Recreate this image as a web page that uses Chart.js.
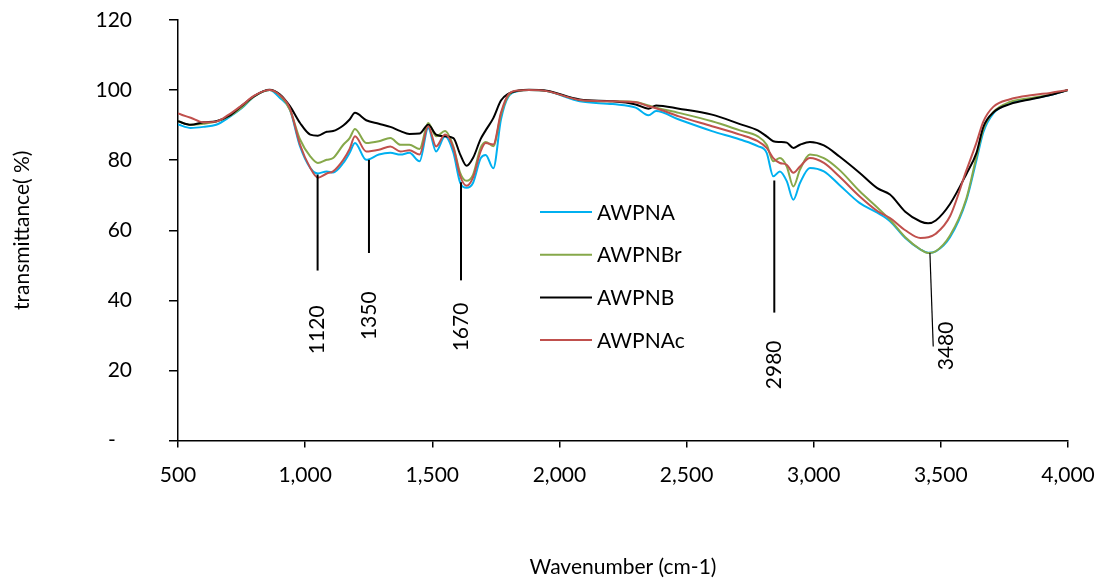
<!DOCTYPE html>
<html lang="en">
<head>
    <meta charset="UTF-8">
    <title>FTIR Transmittance</title>
    <style>
        body {
            margin: 0;
            background-color: #fff;
        }
        #chartBox {
            width: 1099px;
            height: 585px;
        }
    </style>
</head>
<body>
    <div id="chartBox">
        <canvas id="ftirChart" width="1099" height="585"></canvas>
    </div>
    <script src="https://cdn.jsdelivr.net/npm/chart.js"></script>
    <script>
        // wavenumber grid shared by all four spectra
        const waveNumbers = [
            500, 550, 600, 650, 700, 750, 800, 860, 900, 940,
            980, 1020, 1050, 1085, 1110, 1150, 1175, 1196, 1240, 1290,
            1335, 1375, 1410, 1450, 1484, 1515, 1550, 1583, 1610, 1635,
            1660, 1690, 1710, 1740, 1770, 1800, 1840, 1880, 1950, 2080,
            2210, 2300, 2350, 2380, 2470, 2600, 2710, 2780, 2815, 2841,
            2867, 2894, 2920, 2946, 2985, 3040, 3100, 3180, 3250, 3300,
            3360, 3420, 3450, 3480, 3536, 3600, 3640, 3667, 3706, 3772,
            3862, 3930, 4000
        ];

        const awpna = [
            90.2, 89.2, 89.5, 90.1, 92.2, 94.8, 98.2, 100, 97.8, 94.4,
            83.9, 77.8, 76.2, 76.8, 76.5, 79.2, 82.1, 84.9, 80.1, 81.6,
            82.1, 81.6, 82.1, 79.7, 89.2, 82.5, 86.8, 82.1, 73.5, 72.1,
            73.5, 80.5, 81.5, 77.7, 91.6, 98.2, 99.7, 100, 99.7, 96.8,
            96, 95, 92.8, 94, 91.6, 88.3, 85.9, 84, 82.1, 75.4,
            76.8, 74, 68.7, 73.5, 77.8, 76.8, 73, 67.8, 65, 62.6,
            57.8, 54.5, 53.6, 54, 58, 68.5, 80, 88, 93.3, 96.2,
            97.6, 98.6, 100
        ];

        const awpnbr = [
            91.1, 90.1, 90.4, 91, 92.5, 95, 98.2, 100, 98.5, 94.4,
            85.9, 81.1, 79.2, 80.1, 80.6, 84.4, 86.3, 88.9, 84.9, 85.4,
            86.3, 84.4, 84.4, 83.2, 90.6, 86.8, 88.3, 83.9, 76.3, 74.1,
            75.8, 83.5, 85.2, 84, 93, 98.5, 99.8, 100, 99.7, 97.2,
            96.8, 96.6, 95.6, 95, 93.5, 91.1, 88.5, 86.8, 84.4, 79.7,
            80.6, 78.2, 72.5, 77.3, 81.6, 80.6, 77.3, 71.2, 66.5, 63,
            58, 54.5, 53.5, 54, 58.5, 69, 81, 88.8, 93.7, 96.6,
            97.8, 98.7, 100
        ];

        const awpnb = [
            91.1, 90.1, 90.8, 91.1, 92.6, 95.5, 98.3, 100.1, 98.8, 95.4,
            90.6, 87.3, 87, 88.1, 88.3, 89.9, 91.6, 93.5, 91.4, 90.4,
            89.5, 88.3, 87.5, 87.6, 90.1, 87.3, 86.8, 86.3, 81.6, 78.4,
            80.6, 86, 88.5, 92, 97, 99, 99.9, 100.1, 99.8, 97.3,
            96.8, 95.9, 94.7, 95.6, 94.7, 93, 90.3, 88.5, 86.8, 85.4,
            85.2, 85, 83.5, 84.4, 85.2, 84.2, 81.1, 76.4, 72, 70.2,
            65.3, 62.5, 62, 62.8, 67.5, 76, 82.1, 89.5, 93.6, 96,
            97.5, 98.6, 100
        ];

        const awpnac = [
            93.3, 92.1, 90.8, 91, 93, 95.6, 98.4, 100, 98.6, 94.8,
            84.4, 77.8, 75, 76.2, 76.8, 80.1, 83.2, 86.8, 82.5, 83,
            83.9, 82.5, 82.8, 81.6, 89.7, 83.9, 87.3, 83.5, 75.4, 72.7,
            75, 82.5, 84.9, 84.5, 93.5, 98.8, 99.9, 100, 99.7, 97.2,
            96.8, 96.5, 95.4, 94.8, 92.5, 89.7, 87.3, 85.4, 83.5, 80.6,
            79.2, 78.7, 76.4, 78.2, 80.6, 79.2, 75.4, 69.7, 65.5, 63.5,
            60, 57.8, 58, 59, 64, 77, 85, 91, 95.2, 97.4,
            98.6, 99.2, 100
        ];

        const seriesNames = ['AWPNA', 'AWPNBr', 'AWPNB', 'AWPNAc'];
        const seriesValues = [awpna, awpnbr, awpnb, awpnac];
        const seriesColors = ['#00b0f0', '#86a84a', '#000000', '#c0504d'];

        // peak markers: line from (x1, top) to (x2, bottom), rotated label at (labelX, labelY)
        const peakLabels = ['1120', '1350', '1670', '2980', '3480'];
        const peakLineX1 = [1049, 1251, 1613, 2845, 3457];
        const peakLineX2 = [1049, 1251, 1613, 2845, 3470];
        const peakLineTop = [75.9, 80.1, 73.7, 74.2, 53.5];
        const peakLineBottom = [48.5, 53.5, 45.7, 36.5, 26.8];
        const peakLabelX = [1049, 1251, 1613, 2845, 3523];
        const peakLabelY = [31.6, 35.6, 32.4, 21.6, 27];

        const FONT = 'Lato, "Open Sans", sans-serif';
        const FONT_SIZE = 21;

        const peakPlugin = {
            id: 'peaks',
            afterDatasetsDraw(chart) {
                const ctx = chart.ctx;
                const xs = chart.scales.x;
                const ys = chart.scales.y;
                ctx.save();
                ctx.strokeStyle = '#000';
                ctx.fillStyle = '#000';
                ctx.font = FONT_SIZE + 'px ' + FONT;
                ctx.textAlign = 'center';
                ctx.textBaseline = 'middle';
                peakLabels.forEach((txt, i) => {
                    ctx.lineWidth = i === peakLabels.length - 1 ? 1.2 : 2;
                    ctx.beginPath();
                    ctx.moveTo(xs.getPixelForValue(peakLineX1[i]), ys.getPixelForValue(peakLineTop[i]));
                    ctx.lineTo(xs.getPixelForValue(peakLineX2[i]), ys.getPixelForValue(peakLineBottom[i]));
                    ctx.stroke();
                    ctx.save();
                    ctx.translate(xs.getPixelForValue(peakLabelX[i]), ys.getPixelForValue(peakLabelY[i]));
                    ctx.rotate(-Math.PI / 2);
                    ctx.fillText(txt, 0, 0);
                    ctx.restore();
                });
                ctx.restore();
            }
        };

        // legend drawn inside the plot area, like the original
        const innerLegend = {
            id: 'innerLegend',
            afterDraw(chart) {
                const ctx = chart.ctx;
                const area = chart.chartArea;
                const left = area.left + 362;
                const top = area.top + 192;
                ctx.save();
                ctx.font = FONT_SIZE + 'px ' + FONT;
                ctx.textBaseline = 'middle';
                ctx.textAlign = 'left';
                chart.data.datasets.forEach((ds, i) => {
                    const y = top + i * 42.7;
                    ctx.strokeStyle = ds.borderColor;
                    ctx.lineWidth = 2;
                    ctx.beginPath();
                    ctx.moveTo(left, y);
                    ctx.lineTo(left + 52, y);
                    ctx.stroke();
                    ctx.fillStyle = '#000';
                    ctx.fillText(ds.label, left + 57, y + 1);
                });
                ctx.restore();
            }
        };

        const ctx = document.getElementById('ftirChart').getContext('2d');
        const chart = new Chart(ctx, {
            type: 'line',
            data: {
                datasets: seriesNames.map((name, i) => ({
                    label: name,
                    data: waveNumbers.map((w, j) => ({ x: w, y: seriesValues[i][j] })),
                    borderColor: seriesColors[i],
                    backgroundColor: seriesColors[i],
                    borderWidth: 2,
                    pointRadius: 0,
                    fill: false,
                    cubicInterpolationMode: 'monotone',
                    order: seriesNames.length - 1 - i
                }))
            },
            options: {
                responsive: false,
                animation: false,
                layout: {
                    padding: { top: 20, right: 31, left: 0, bottom: 0 }
                },
                plugins: {
                    legend: { display: false },
                    tooltip: { enabled: false }
                },
                scales: {
                    x: {
                        type: 'linear',
                        min: 500,
                        max: 4000,
                        ticks: {
                            stepSize: 500,
                            padding: 15,
                            color: '#000',
                            maxRotation: 0,
                            font: { family: FONT, size: FONT_SIZE },
                            callback: v => v.toLocaleString('en-US')
                        },
                        grid: {
                            drawOnChartArea: false,
                            tickLength: 7,
                            color: '#000',
                            lineWidth: 1.5
                        },
                        border: { color: '#000', width: 1.5 },
                        title: {
                            display: true,
                            text: 'Wavenumber (cm-1)',
                            color: '#000',
                            font: { family: FONT, size: FONT_SIZE },
                            padding: { top: 0, bottom: 5 }
                        },
                        afterFit: s => {
                            s.height = 144.5;
                            s.paddingLeft = 0;
                            s.paddingRight = 0;
                        }
                    },
                    y: {
                        min: 0,
                        max: 120,
                        ticks: {
                            stepSize: 20,
                            padding: 37,
                            color: '#000',
                            font: { family: FONT, size: FONT_SIZE },
                            callback: v => v === 0 ? '-   ' : v
                        },
                        grid: {
                            drawOnChartArea: false,
                            tickLength: 9,
                            color: '#000',
                            lineWidth: 1.5
                        },
                        border: { color: '#000', width: 1.5 },
                        title: {
                            display: true,
                            text: 'transmittance( %)',
                            color: '#000',
                            font: { family: FONT, size: FONT_SIZE },
                            padding: { top: 10, bottom: 0 }
                        },
                        afterFit: s => {
                            s.width = 178;
                            s.paddingTop = 0;
                            s.paddingBottom = 0;
                        }
                    }
                }
            },
            plugins: [peakPlugin, innerLegend]
        });
    </script>
</body>
</html>
